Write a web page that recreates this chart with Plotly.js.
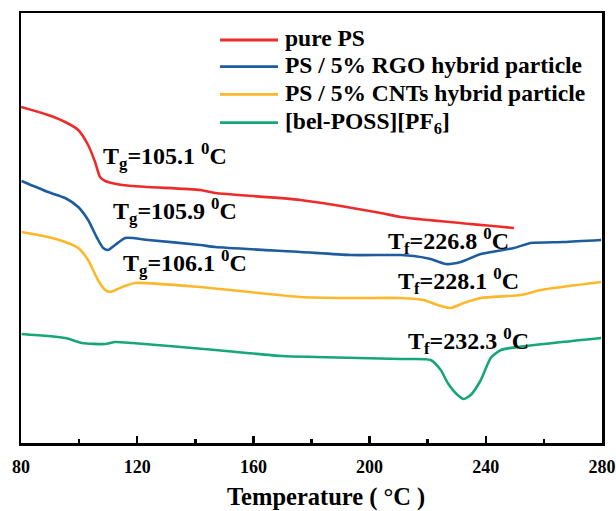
<!DOCTYPE html>
<html>
<head>
<meta charset="utf-8">
<script src="https://cdn.plot.ly/plotly-3.0.1.min.js"></script>
<style>html,body{margin:0;padding:0;background:#fff;}#chart{width:616px;height:511px;}</style>
</head>
<body>
<div id="chart"></div>
<script>
// Temperature (°C) and heat-flow (arbitrary units, offset curves)
const tempPS   = [80, 89.3, 95.2, 99.7, 103.1, 105.5, 107.2, 109, 114.8, 123.8, 141.7, 146.9, 176.2, 203.8, 210.7, 249.7];
const flowPS   = [336, 328, 321, 313, 298, 281, 266, 262, 258, 256, 253, 250, 243, 230, 226, 215];

const tempRGO  = [80.2, 89.3, 95.2, 99.7, 103.1, 106.2, 108.3, 110, 112.4, 115.9, 123.8, 141.7, 146.9, 176.2, 193.4, 210.7, 215.2, 221, 226.2, 231.4, 238.3, 249.7, 255.5, 266.9, 279.7];
const flowRGO  = [262, 251, 245, 236, 223, 205, 195, 193, 198, 205, 203, 198, 196, 191, 188, 188, 187, 184, 179, 181, 189, 195, 200, 201, 203];

const tempCNT  = [80.2, 89.3, 95.2, 99.7, 103.1, 106.5, 109, 110.7, 114.8, 119.3, 141.7, 176.2, 193.4, 210.7, 218.6, 223.4, 227.9, 232.4, 238.3, 252.1, 259, 279.7];
const flowCNT  = [211, 206, 201, 195, 183, 163, 153, 151, 156, 160, 156, 146, 145, 145, 143, 138, 135, 140, 145, 148, 153, 161];

const tempPOSS = [80.2, 95.2, 101, 109, 112.4, 118.3, 146.9, 170, 181.4, 210.7, 221, 224.5, 226.9, 230.3, 232.4, 234.8, 238.3, 241.7, 245.2, 251, 279.7];
const flowPOSS = [109, 105, 100, 99, 101, 100, 93, 87, 86, 84, 83, 73, 60, 48, 44, 48, 63, 85, 93, 96, 105];

const seriesNames = ['pure PS', 'PS / 5% RGO hybrid particle', 'PS / 5% CNTs hybrid particle', '[bel-POSS][PF<sub>6</sub>]'];
const seriesColors = ['#ee2b2b', '#1d5c9f', '#fdb72a', '#17a679'];

const xTickVals = [80, 120, 160, 200, 240, 280];
const xTickText = ['80', '120', '160', '200', '240', '280'];
const xMinorVals = [100, 140, 180, 220, 260];
const xTitle = 'Temperature ( °C )';

const annTexts = ['T<sub>g</sub>=105.1 <sup>0</sup>C', 'T<sub>g</sub>=105.9 <sup>0</sup>C', 'T<sub>g</sub>=106.1 <sup>0</sup>C',
                  'T<sub>f</sub>=226.8 <sup>0</sup>C', 'T<sub>f</sub>=228.1 <sup>0</sup>C', 'T<sub>f</sub>=232.3 <sup>0</sup>C'];
const annX = [107.5, 111.0, 114.5, 205.8, 209.0, 212.4];
const annY = [287, 232, 180, 202, 162, 102];

const xs = [tempPS, tempRGO, tempCNT, tempPOSS];
const ys = [flowPS, flowRGO, flowCNT, flowPOSS];
const font = {family: 'Liberation Serif, Times New Roman, serif', color: '#000', weight: 700};

const traces = xs.map((x, i) => ({
  x: x, y: ys[i], type: 'scatter', mode: 'lines', name: seriesNames[i],
  line: {color: seriesColors[i], width: 2.6, shape: 'spline', smoothing: 0.6}
}));

// manual legend placement (paper coords)
const legLineX0 = 0.3425, legLineX1 = 0.4423, legTextX = 0.4509;
const legRowY = [0.9372, 0.8751, 0.8109, 0.7449];

const shapes = seriesNames.map((n, i) => ({
  type: 'line', xref: 'paper', yref: 'paper', x0: legLineX0, x1: legLineX1, y0: legRowY[i], y1: legRowY[i],
  line: {color: seriesColors[i], width: 2.8}
}));

const annotations = annTexts.map((t, i) => ({
  x: annX[i], y: annY[i], xref: 'x', yref: 'y', text: t, showarrow: false,
  xanchor: 'left', yanchor: 'middle', font: Object.assign({}, font, {size: 24})
})).concat(seriesNames.map((n, i) => ({
  x: legTextX, y: legRowY[i] + 0.004 - (i === 3 ? 0.005 : 0), xref: 'paper', yref: 'paper', text: n, showarrow: false,
  xanchor: 'left', yanchor: 'middle', font: Object.assign({}, font, {size: 23.5})
}))).concat([{
  x: 0.525, y: -0.1256, xref: 'paper', yref: 'paper', text: xTitle, showarrow: false,
  xanchor: 'center', yanchor: 'middle', font: Object.assign({}, font, {size: 24.5})
}]);

const layout = {
  width: 616, height: 511,
  margin: {l: 21, r: 14, t: 13, b: 68},
  paper_bgcolor: '#fff', plot_bgcolor: '#fff',
  showlegend: false,
  xaxis: {
    range: [80, 280], tickvals: xTickVals, ticktext: xTickText,
    ticks: 'inside', ticklen: 7, tickwidth: 2.5, tickcolor: '#000',
    minor: {tickvals: xMinorVals, ticks: 'inside', ticklen: 4, tickwidth: 2.5, tickcolor: '#000'},
    showline: true, linecolor: '#000', linewidth: 2.5, mirror: true,
    showgrid: false, zeroline: false,
    tickfont: Object.assign({}, font, {size: 18}),
    ticklabelstandoff: 6
  },
  yaxis: {
    range: [0, 430], showticklabels: false, ticks: '',
    showline: true, linecolor: '#000', linewidth: 2.5, mirror: true,
    showgrid: false, zeroline: false
  },
  shapes: shapes,
  annotations: annotations
};

Plotly.newPlot('chart', traces, layout, {displayModeBar: false, staticPlot: true});
</script>
</body>
</html>
